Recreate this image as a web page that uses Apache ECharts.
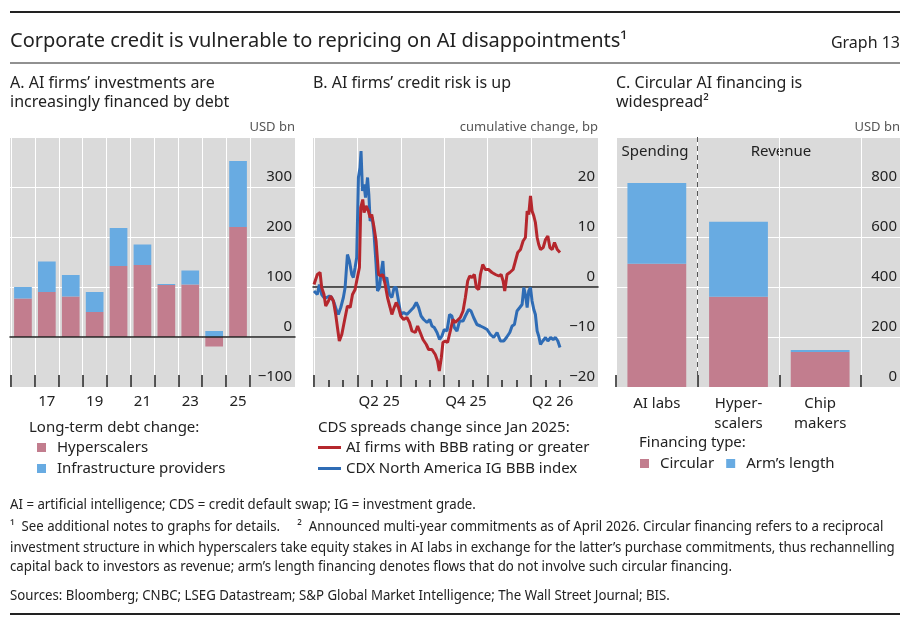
<!DOCTYPE html>
<html>
<head>
<meta charset="utf-8">
<title>Graph 13</title>
<script src="https://cdn.jsdelivr.net/npm/echarts@6/dist/echarts.min.js"></script>
<style>
html, body { margin: 0; padding: 0; background: #fff; }
#chart { width: 909px; height: 624px; }
</style>
</head>
<body>
<div id="chart"></div>
<script>
// A. long-term debt change, USD bn
var years = ['2016', '2017', '2018', '2019', '2020', '2021', '2022', '2023', '2024', '2025'];
var hyperscalers = [77, 90, 81, 50, 142, 144, 104, 105, -19, 220];
var infraProviders = [23, 61, 43, 40, 76, 41, 2, 28, 12, 132];

// B. CDS spreads, cumulative change in bp (x = months since Jan 2025)
var aiMonths = [0, 0.23, 0.42, 0.53, 0.69, 0.81, 1, 1.15, 1.34, 1.5, 1.62, 1.75, 1.92, 2.15, 2.31, 2.5, 2.66, 2.84, 2.95,
  3.14, 3.23, 3.37, 3.46, 3.6, 3.76, 3.88, 3.99, 4.15, 4.29, 4.46, 4.62, 4.76, 4.92, 5.08, 5.26, 5.38, 5.54, 5.68, 5.84,
  6, 6.19, 6.42, 6.6, 6.77, 7, 7.16, 7.34, 7.53, 7.76, 7.92, 8.15, 8.38, 8.54, 8.66, 8.8, 8.91, 9.07, 9.23, 9.42, 9.6,
  9.76, 9.88, 10.11, 10.3, 10.46, 10.62, 10.76, 10.92, 11.08, 11.22, 11.38, 11.5, 11.66, 11.84, 12.06, 12.3, 12.54,
  12.77, 12.93, 13.07, 13.18, 13.34, 13.53, 13.76, 13.92, 14.08, 14.27, 14.45, 14.61, 14.73, 14.84, 14.96, 15.07,
  15.19, 15.3, 15.42, 15.53, 15.65, 15.84, 16, 16.16, 16.3, 16.46, 16.62, 16.81, 17];
var aiValues = [0.5, 2.5, 2.9, -0.1, -1.5, -3.8, -2.8, -1.8, -2.8, -5.5, -8.1, -10.8, -9.5, -6.1, -3.8, -4.1, -1.5, -0.5, 1.2,
  3.9, 15.9, 17.5, 14.9, 16.2, 15.2, 13.9, 14.5, 11.9, 9.2, 2.5, 2.2, 2.5, 0.5, -2.1, -4.1, -5.5, -4.1, -3.1, -4.1,
  -5.8, -6.5, -6.1, -7.1, -8.8, -9.1, -7.8, -9.1, -10.5, -11.5, -12.5, -12.5, -13.5, -14.8, -16.8, -14.1, -11.1, -10.8, -11.1, -8.8, -6.5,
  -7.1, -7.5, -6.1, -4.8, -2.1, 1.2, 2.2, 1.9, 2.5, -0.1, -0.5, 2.5, 4.5, 3.5, 3.5, 2.9, 2.5,
  2.2, 2.5, 1.2, -0.8, 2.5, 2.9, 3.5, 5.2, 6.9, 7.5, 9.2, 9.9, 15.2, 14.5, 18.2, 15.2,
  14.2, 12.9, 9.9, 8.5, 7.5, 7.9, 9.5, 10.2, 7.9, 7.5, 8.9, 7.5, 6.9];
var cdxMonths = [0, 0.23, 0.37, 0.53, 0.69, 0.88, 1.06, 1.22, 1.38, 1.57, 1.68, 1.85, 2.03, 2.15, 2.31, 2.45, 2.61, 2.72,
  2.84, 2.95, 3.07, 3.18, 3.25, 3.35, 3.46, 3.56, 3.7, 3.79, 3.88, 4.02, 4.15, 4.29, 4.39, 4.53, 4.62, 4.76, 4.85, 5.03,
  5.22, 5.38, 5.54, 5.68, 5.84, 6, 6.19, 6.42, 6.65, 6.88, 7.07, 7.23, 7.4, 7.58, 7.81, 8, 8.15, 8.31, 8.5, 8.68, 8.84,
  9, 9.19, 9.37, 9.53, 9.7, 9.88, 10.06, 10.3, 10.46, 10.69, 10.85, 11.03, 11.26, 11.5, 11.72, 11.96, 12.19, 12.42,
  12.65, 12.88, 13.11, 13.3, 13.53, 13.69, 13.85, 14.03, 14.22, 14.38, 14.5, 14.61, 14.73, 14.84, 14.96, 15.07, 15.19,
  15.3, 15.42, 15.53, 15.65, 15.81, 16, 16.16, 16.35, 16.53, 16.69, 16.85, 17];
var cdxValues = [-0.8, -1.5, 0.5, -1.5, -2.1, -2.1, -1.8, -2.1, -3.1, -4.8, -5.5, -4.1, -2.1, -0.1, 6.5, 5.2, 2.5, 1.9,
  3.9, 5.9, 21.9, 23.9, 27.2, 19.2, 20.5, 17.9, 21.9, 18.5, 13.2, 13.9, 10.5, 4.5, -0.8, -0.1, 2.5, 5.2, 1.2, 1.9,
  -1.5, -2.1, -0.1, -0.1, -2.8, -5.5, -5.1, -5.5, -4.8, -4.1, -3.1, -4.1, -5.8, -6.5, -7.1, -6.5, -7.8, -8.1, -9.1, -10.5, -9.8,
  -8.5, -8.8, -5.5, -5.8, -8.1, -8.8, -6.8, -6.8, -5.8, -4.5, -4.8, -6.1, -7.5, -7.8, -8.1, -8.5, -9.5, -10.1,
  -9.1, -10.8, -10.8, -10.1, -9.1, -7.8, -7.5, -4.8, -4.1, -3.5, -0.1, -1.5, -4.1, -0.8, -0.1, -2.8, -4.5,
  -5.5, -8.8, -9.8, -11.5, -10.8, -10.1, -10.8, -10.1, -10.5, -10.1, -10.8, -12.1];
var quarterTicks = [0, 3, 6, 9, 12, 15];
var monthTicks = [1, 2, 4, 5, 7, 8, 10, 11, 13, 14, 16, 17];
var quarterLabelAt = [4.5, 10.5, 16.5];
var quarterLabels = ['Q2 25', 'Q4 25', 'Q2 26'];

// C. announced commitments, USD bn
var firmTypes = ['AI labs', 'Hyper-\nscalers', 'Chip\nmakers'];
var circular = [493, 361, 140];
var armsLength = [323, 300, 8];

var FONT = '"Noto Sans", "Open Sans", sans-serif';
var INK = '#222';
var BG = '#dadada';
var PINK = '#c27d8e';
var LBLUE = '#68abe2';
var RED = '#b5272d';
var NAVY = '#2f6cb5';

function pairs(xs, ys) {
  var out = [];
  for (var i = 0; i < xs.length; i++) out.push([xs[i], ys[i]]);
  return out;
}

function minus(v) { return String(v).replace('-', '\u2212'); }

function txt(x, y, s, size, extra, sx) {
  var st = { text: s, fontSize: size, fontFamily: FONT, fill: INK, align: 'left', verticalAlign: 'middle' };
  for (var k in extra) st[k] = extra[k];
  return { type: 'text', x: x, y: y, scaleX: sx || 1, style: st, silent: true };
}
function hline(y, w) {
  return { type: 'line', shape: { x1: 10, y1: y, x2: 900, y2: y }, style: { stroke: INK, lineWidth: w }, silent: true };
}

// outer grid: background, horizontal lines, y labels on the right
function outerY(idx, min, max, step, top) {
  return {
    gridIndex: idx, type: 'value', min: min, max: max, interval: step, position: 'right',
    axisLine: { show: false }, axisTick: { show: false },
    splitLine: { show: true, lineStyle: { color: '#fff', width: 1 } },
    axisLabel: {
      margin: -3, align: 'right', verticalAlign: 'bottom', padding: [0, 0, 3, 0],
      fontSize: 15, color: INK, fontFamily: FONT,
      formatter: function (v) { return v === top ? '' : minus(v); }
    }
  };
}
function hiddenY(idx, min, max) {
  return { gridIndex: idx, type: 'value', min: min, max: max, show: false };
}
function zeroX(idx, z) {
  return {
    gridIndex: idx, type: 'value', min: 0, max: 1, z: z,
    axisLine: { show: true, onZero: true, lineStyle: { color: INK, width: 1.5 } },
    axisTick: { show: false }, axisLabel: { show: false }, splitLine: { show: false }
  };
}
var tickStyle = { color: INK, width: 1.5 };
var labelStyle = { fontSize: 15, color: INK, fontFamily: FONT };

var chart = echarts.init(document.getElementById('chart'));

var option = {
  animation: false,
  backgroundColor: '#fff',
  textStyle: { fontFamily: FONT },
  grid: [
    { left: 10, top: 137, width: 285, height: 250, show: true, backgroundColor: BG, borderWidth: 0, outerBoundsMode: 'none' },
    { left: 11, top: 137, width: 239, height: 250, outerBoundsMode: 'none' },
    { left: 313, top: 137, width: 285, height: 250, show: true, backgroundColor: BG, borderWidth: 0, outerBoundsMode: 'none' },
    { left: 314, top: 137, width: 246, height: 250, outerBoundsMode: 'none' },
    { left: 616, top: 137, width: 284, height: 250, show: true, backgroundColor: BG, borderWidth: 0, outerBoundsMode: 'none' },
    { left: 616, top: 137, width: 245, height: 250, outerBoundsMode: 'none' }
  ],
  xAxis: [
    zeroX(0, 5),
    {
      gridIndex: 1, type: 'category', data: years,
      axisLine: { show: false, onZero: false },
      axisTick: { show: true, interval: 0, inside: true, length: 12, lineStyle: tickStyle },
      splitLine: { show: true, interval: 0, lineStyle: { color: '#fff', width: 1 } },
      axisLabel: Object.assign({ margin: 7, interval: function (i) { return i % 2 === 1; },
        formatter: function (v) { return v.slice(2); } }, labelStyle)
    },
    zeroX(2, 1),
    {
      gridIndex: 3, type: 'value', min: 0, max: 17, position: 'bottom',
      axisLine: { show: false, onZero: false },
      axisTick: { show: true, inside: true, length: 12, lineStyle: tickStyle, customValues: quarterTicks },
      splitLine: { show: true, lineStyle: { color: '#fff', width: 1 } },
      axisLabel: Object.assign({ margin: 7, customValues: quarterLabelAt,
        formatter: function (v) { var i = quarterLabelAt.indexOf(v); return i < 0 ? '' : quarterLabels[i]; } }, labelStyle)
    },
    {
      gridIndex: 3, type: 'value', min: 0, max: 17, position: 'bottom',
      axisLine: { show: false, onZero: false },
      axisTick: { show: true, inside: true, length: 7, lineStyle: tickStyle, customValues: monthTicks },
      splitLine: { show: false }, axisLabel: { show: false }
    },
    { gridIndex: 4, type: 'value', show: false },
    {
      gridIndex: 5, type: 'category', data: firmTypes,
      axisLine: { show: false, onZero: false },
      axisTick: { show: true, interval: 0, inside: true, length: 12, lineStyle: tickStyle },
      splitLine: { show: true, interval: 0, lineStyle: { color: '#fff', width: 1 } },
      axisLabel: Object.assign({ margin: 7, interval: 0, lineHeight: 20 }, labelStyle)
    },
    {
      // spending / revenue divider
      gridIndex: 5, type: 'value', min: 0, max: 3, position: 'bottom', z: 1,
      axisLine: { show: false, onZero: false },
      axisTick: { show: false, customValues: [1] },
      axisLabel: { show: false },
      splitLine: { show: true, lineStyle: { color: '#555', width: 1, type: [5, 4] } }
    }
  ],
  yAxis: [
    outerY(0, -100, 400, 100, 400),
    hiddenY(1, -100, 400),
    outerY(2, -20, 30, 10, 30),
    hiddenY(3, -20, 30),
    outerY(4, 0, 1000, 200, 1000),
    hiddenY(5, 0, 1000)
  ],
  legend: [
    {
      data: ['Hyperscalers', 'Infrastructure providers'], orient: 'vertical', left: 37, top: 440, padding: 0,
      icon: 'rect', itemWidth: 9, itemHeight: 9, itemGap: 6, selectedMode: false,
      textStyle: { fontSize: 15, color: INK, fontFamily: FONT, padding: [0, 0, 0, 6] }
    },
    {
      data: ['AI firms with BBB rating or greater', 'CDX North America IG BBB index'], orient: 'vertical',
      left: 318, top: 440, padding: 0, icon: 'rect', itemWidth: 23, itemHeight: 3, itemGap: 6, selectedMode: false,
      textStyle: { fontSize: 15, color: INK, fontFamily: FONT }
    },
    {
      data: ['Circular', 'Arm\u2019s length'], left: 640, top: 456, padding: 0,
      icon: 'rect', itemWidth: 9, itemHeight: 9, itemGap: 12, selectedMode: false,
      textStyle: { fontSize: 15, color: INK, fontFamily: FONT, padding: [0, 0, 0, 6] }
    }
  ],
  series: [
    { type: 'bar', name: 'Hyperscalers', xAxisIndex: 1, yAxisIndex: 1, stack: 'debt', barWidth: '74%',
      data: hyperscalers, itemStyle: { color: PINK } },
    { type: 'bar', name: 'Infrastructure providers', xAxisIndex: 1, yAxisIndex: 1, stack: 'debt', barWidth: '74%',
      data: infraProviders, itemStyle: { color: LBLUE } },
    { type: 'line', name: 'CDX North America IG BBB index', xAxisIndex: 3, yAxisIndex: 3, z: 3,
      data: pairs(cdxMonths, cdxValues), showSymbol: false, symbol: 'none',
      lineStyle: { color: NAVY, width: 3 }, itemStyle: { color: NAVY } },
    { type: 'line', name: 'AI firms with BBB rating or greater', xAxisIndex: 3, yAxisIndex: 3, z: 4,
      data: pairs(aiMonths, aiValues), showSymbol: false, symbol: 'none',
      lineStyle: { color: RED, width: 3 }, itemStyle: { color: RED } },
    { type: 'bar', name: 'Circular', xAxisIndex: 6, yAxisIndex: 5, stack: 'fin', barWidth: '72%',
      data: circular, itemStyle: { color: PINK } },
    { type: 'bar', name: 'Arm\u2019s length', xAxisIndex: 6, yAxisIndex: 5, stack: 'fin', barWidth: '72%',
      data: armsLength, itemStyle: { color: LBLUE } }
  ],
  graphic: [
    hline(12, 2),
    hline(63, 1),
    hline(614, 2),
    txt(10, 41, 'Corporate credit is vulnerable to repricing on AI disappointments\u00b9', 20),
    txt(900, 43, 'Graph 13', 16, { align: 'right' }),
    txt(10, 83, 'A. AI firms\u2019 investments are', 16),
    txt(10, 102, 'increasingly financed by debt', 16),
    txt(313, 83, 'B. AI firms\u2019 credit risk is up', 16),
    txt(616, 83, 'C. Circular AI financing is', 16),
    txt(616, 102, 'widespread\u00b2', 16),
    txt(295, 127, 'USD bn', 13, { align: 'right', fill: '#555' }),
    txt(598, 127, 'cumulative change, bp', 13, { align: 'right', fill: '#555' }),
    txt(900, 127, 'USD bn', 13, { align: 'right', fill: '#555' }),
    txt(655, 152, 'Spending', 15, { align: 'center' }),
    txt(781, 152, 'Revenue', 15, { align: 'center' }),
    txt(29, 428, 'Long-term debt change:', 15),
    txt(318, 428, 'CDS spreads change since Jan 2025:', 15),
    txt(639, 443, 'Financing type:', 15),
    txt(10, 505, 'AI = artificial intelligence; CDS = credit default swap; IG = investment grade.', 13.5, null, 0.98),
    txt(10, 527, '\u00b9  See additional notes to graphs for details.     \u00b2  Announced multi-year commitments as of April 2026. Circular financing refers to a reciprocal', 13.5, null, 0.98),
    txt(10, 548, 'investment structure in which hyperscalers take equity stakes in AI labs in exchange for the latter\u2019s purchase commitments, thus rechannelling', 13.5, null, 0.98),
    txt(10, 567, 'capital back to investors as revenue; arm\u2019s length financing denotes flows that do not involve such circular financing.', 13.5, null, 0.98),
    txt(10, 596, 'Sources: Bloomberg; CNBC; LSEG Datastream; S&P Global Market Intelligence; The Wall Street Journal; BIS.', 13.5, null, 0.98)
  ]
};

chart.setOption(option);
</script>
</body>
</html>
